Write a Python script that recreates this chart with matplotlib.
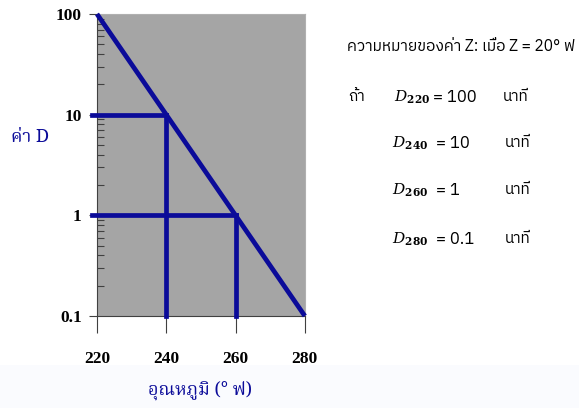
import matplotlib
matplotlib.use("Agg")
import matplotlib.pyplot as plt
from matplotlib import font_manager
import matplotlib.ticker as mticker

# pick a font that has Thai glyphs if one is installed
names = sorted({f.name for f in font_manager.fontManager.ttflist})
thai = [n for n in names if "Thai" in n or n in ("Loma", "Garuda", "Norasi", "Kinnari", "Waree", "Tlwg Typo")]
thai_sans = [n for n in thai if "Serif" not in n] + ["DejaVu Sans"]
thai_serif = [n for n in thai if "Serif" in n] + thai + ["DejaVu Serif"]

temps = [220, 240, 260, 280]
d_values = [100, 10, 1, 0.1]
y_ticks = [0.1, 1, 10, 100]
y_labels = ["0.1", "1", "10", "100"]
x_labels = ["220", "240", "260", "280"]
guide_temps = [240, 260]
guide_d = [10, 1]

header = "ความหมายของค่า Z: เมื่อ Z = 20° ฟ"
row_subs = ["220", "240", "260", "280"]
row_vals = ["100", "10", "1", "0.1"]
unit = "นาที"

blue = "#0b0b99"

fig = plt.figure(figsize=(5.79, 4.08), dpi=100)
fig.patch.set_facecolor("white")
# faint band at the bottom
fig.patches.append(plt.Rectangle((0, 0), 1, 0.105, transform=fig.transFigure,
                                 facecolor="#fafbfe", edgecolor="none", zorder=-1))

ax = fig.add_axes([0.1675, 0.2255, 0.359, 0.7402])
ax.set_facecolor("#a5a5a5")
ax.set_yscale("log")
ax.set_xlim(220, 280)
ax.set_ylim(0.1, 100)

ax.plot([temps[0], temps[-1]], [d_values[0], d_values[-1]], color=blue, lw=3.4,
        solid_capstyle="butt", clip_on=False, zorder=5)
for t, d in zip(guide_temps, guide_d):
    ax.plot([218.5, t], [d, d], color=blue, lw=3.4, clip_on=False, zorder=4)
    ax.plot([t, t], [0.1, d], color=blue, lw=3.4, clip_on=False, zorder=4)

for s in ["top", "right"]:
    ax.spines[s].set_color("#b0b0b0")
    ax.spines[s].set_linewidth(0.8)
for s in ["left", "bottom"]:
    ax.spines[s].set_color("#404040")
    ax.spines[s].set_linewidth(0.8)

ax.set_yticks(y_ticks)
ax.set_yticklabels(y_labels)
ax.yaxis.set_minor_locator(mticker.LogLocator(base=10, subs=range(2, 10)))
ax.yaxis.set_minor_formatter(mticker.NullFormatter())
ax.tick_params(axis="y", which="major", length=6, width=0.8, color="#404040", pad=5)
ax.tick_params(axis="y", which="minor", direction="in", length=5, width=0.8, color="#404040")
ax.set_xticks(temps)
ax.set_xticklabels(x_labels)
ax.tick_params(axis="x", length=12, width=0.8, color="#404040", pad=13)
for lab in ax.get_xticklabels() + ax.get_yticklabels():
    lab.set_fontfamily("Liberation Serif")
    lab.set_fontweight("bold")
    lab.set_fontsize(12.5)

fig.text(0.052, 0.664, "ค่า D", color=blue, fontsize=13, fontweight="bold",
         family=thai_serif, ha="center", va="center")
fig.text(0.345, 0.043, "อุณหภูมิ (° ฟ)", color=blue, fontsize=13, fontweight="bold",
         family=thai_serif, ha="center", va="center")

fig.text(0.600, 0.887, header, fontsize=11.2, family=thai_sans, ha="left", va="center")
fig.text(0.601, 0.762, "ถ้า", fontsize=11, family=thai_sans, ha="left", va="center")
row_y = [0.762, 0.650, 0.534, 0.414]
for i, (sub, val) in enumerate(zip(row_subs, row_vals)):
    x0 = 0.680 if i == 0 else 0.677
    fig.text(x0, row_y[i], r"$\mathbf{\mathit{D}}_{\mathbf{%s}}$" % sub, fontsize=11,
             ha="left", va="center", math_fontfamily="dejavuserif")
    fig.text(0.747 if i == 0 else 0.753, row_y[i], "= " + val,
             fontsize=12, family=thai_sans, ha="left", va="center")
    fig.text(0.868 if i == 0 else 0.871, row_y[i], unit, fontsize=11, family=thai_sans,
             ha="left", va="center")

fig.savefig("out.png", dpi=100)
